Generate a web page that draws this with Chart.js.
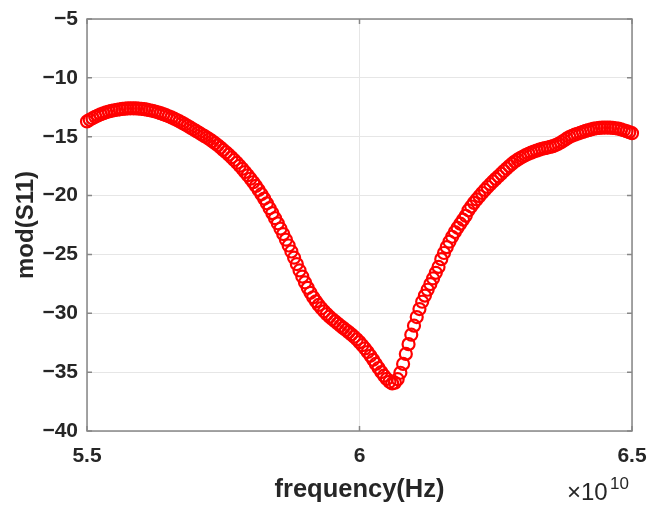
<!DOCTYPE html>
<html>
<head>
<meta charset="utf-8">
<script src="https://cdn.jsdelivr.net/npm/chart.js@4.4.0/dist/chart.umd.min.js"></script>
<style>
  html, body { margin: 0; padding: 0; background: #fff; }
  #wrap { width: 653px; height: 508px; }
</style>
</head>
<body>
<div id="wrap"><canvas id="s11Chart" width="653" height="508"></canvas></div>
<script>
// sweep frequencies in GHz (50 MHz step)
const freqGHz = [
  55.00, 55.05, 55.10, 55.15, 55.20, 55.25, 55.30, 55.35, 55.40, 55.45,
  55.50, 55.55, 55.60, 55.65, 55.70, 55.75, 55.80, 55.85, 55.90, 55.95,
  56.00, 56.05, 56.10, 56.15, 56.20, 56.25, 56.30, 56.35, 56.40, 56.45,
  56.50, 56.55, 56.60, 56.65, 56.70, 56.75, 56.80, 56.85, 56.90, 56.95,
  57.00, 57.05, 57.10, 57.15, 57.20, 57.25, 57.30, 57.35, 57.40, 57.45,
  57.50, 57.55, 57.60, 57.65, 57.70, 57.75, 57.80, 57.85, 57.90, 57.95,
  58.00, 58.05, 58.10, 58.15, 58.20, 58.25, 58.30, 58.35, 58.40, 58.45,
  58.50, 58.55, 58.60, 58.65, 58.70, 58.75, 58.80, 58.85, 58.90, 58.95,
  59.00, 59.05, 59.10, 59.15, 59.20, 59.25, 59.30, 59.35, 59.40, 59.45,
  59.50, 59.55, 59.60, 59.65, 59.70, 59.75, 59.80, 59.85, 59.90, 59.95,
  60.00, 60.05, 60.10, 60.15, 60.20, 60.25, 60.30, 60.35, 60.40, 60.45,
  60.50, 60.55, 60.60, 60.65, 60.70, 60.75, 60.80, 60.85, 60.90, 60.95,
  61.00, 61.05, 61.10, 61.15, 61.20, 61.25, 61.30, 61.35, 61.40, 61.45,
  61.50, 61.55, 61.60, 61.65, 61.70, 61.75, 61.80, 61.85, 61.90, 61.95,
  62.00, 62.05, 62.10, 62.15, 62.20, 62.25, 62.30, 62.35, 62.40, 62.45,
  62.50, 62.55, 62.60, 62.65, 62.70, 62.75, 62.80, 62.85, 62.90, 62.95,
  63.00, 63.05, 63.10, 63.15, 63.20, 63.25, 63.30, 63.35, 63.40, 63.45,
  63.50, 63.55, 63.60, 63.65, 63.70, 63.75, 63.80, 63.85, 63.90, 63.95,
  64.00, 64.05, 64.10, 64.15, 64.20, 64.25, 64.30, 64.35, 64.40, 64.45,
  64.50, 64.55, 64.60, 64.65, 64.70, 64.75, 64.80, 64.85, 64.90, 64.95,
  65.00
];

// mod(S11) in dB
const s11dB = [
  -13.70, -13.56, -13.43, -13.31, -13.20, -13.10, -13.01, -12.93, -12.86, -12.80,
  -12.75, -12.71, -12.67, -12.64, -12.62, -12.60, -12.59, -12.59, -12.60, -12.61,
  -12.63, -12.66, -12.70, -12.75, -12.80, -12.86, -12.93, -13.00, -13.08, -13.17,
  -13.26, -13.36, -13.47, -13.58, -13.70, -13.83, -13.96, -14.09, -14.23, -14.37,
  -14.51, -14.65, -14.79, -14.93, -15.07, -15.22, -15.38, -15.55, -15.73, -15.92,
  -16.12, -16.32, -16.53, -16.75, -16.98, -17.22, -17.47, -17.73, -18.00, -18.28,
  -18.57, -18.87, -19.18, -19.52, -19.88, -20.26, -20.66, -21.07, -21.49, -21.92,
  -22.36, -22.81, -23.27, -23.75, -24.24, -24.75, -25.28, -25.82, -26.36, -26.88,
  -27.38, -27.84, -28.26, -28.64, -28.98, -29.29, -29.57, -29.83, -30.07, -30.29,
  -30.49, -30.68, -30.87, -31.06, -31.24, -31.42, -31.60, -31.79, -31.99, -32.21,
  -32.45, -32.71, -32.99, -33.29, -33.61, -33.95, -34.30, -34.65, -34.99, -35.30,
  -35.58, -35.82, -35.96, -35.90, -35.60, -35.05, -34.30, -33.45, -32.62, -31.82,
  -31.05, -30.32, -29.64, -29.02, -28.50, -28.00, -27.52, -27.04, -26.56, -26.06,
  -25.40, -24.88, -24.38, -23.92, -23.50, -23.10, -22.74, -22.39, -22.05, -21.72,
  -21.25, -20.93, -20.62, -20.33, -20.05, -19.78, -19.52, -19.27, -19.03, -18.80,
  -18.58, -18.36, -18.14, -17.92, -17.70, -17.49, -17.29, -17.11, -16.95, -16.81,
  -16.68, -16.56, -16.45, -16.35, -16.26, -16.18, -16.10, -16.03, -15.97, -15.92,
  -15.87, -15.80, -15.71, -15.60, -15.47, -15.32, -15.17, -15.03, -14.92, -14.83,
  -14.75, -14.67, -14.59, -14.51, -14.44, -14.38, -14.32, -14.28, -14.25, -14.23,
  -14.22, -14.22, -14.23, -14.25, -14.28, -14.32, -14.38, -14.45, -14.53, -14.61,
  -14.70
];

const xTicksHz = [5.5e10, 6.0e10, 6.5e10];
const yTicks = [-40, -35, -30, -25, -20, -15, -10, -5];

const axisColor = '#878787';
const textColor = '#262626';
const fontFamily = '"Liberation Sans", Arial, Helvetica, sans-serif';

const points = freqGHz.map((f, i) => ({ x: f * 1e9, y: s11dB[i] }));

// matlab style box with inward ticks + x10^10 exponent
const matlabBox = {
  id: 'matlabBox',
  beforeDatasetsDraw(chart) {
    const { ctx, chartArea: a, scales: { x, y } } = chart;
    ctx.save();
    ctx.strokeStyle = axisColor;
    ctx.lineWidth = 1.5;
    ctx.strokeRect(a.left, a.top, a.right - a.left, a.bottom - a.top);
    const len = 5;
    ctx.beginPath();
    xTicksHz.forEach(v => {
      const px = x.getPixelForValue(v);
      ctx.moveTo(px, a.bottom); ctx.lineTo(px, a.bottom - len);
      ctx.moveTo(px, a.top); ctx.lineTo(px, a.top + len);
    });
    yTicks.forEach(v => {
      const py = y.getPixelForValue(v);
      ctx.moveTo(a.left, py); ctx.lineTo(a.left + len, py);
      ctx.moveTo(a.right, py); ctx.lineTo(a.right - len, py);
    });
    ctx.stroke();
    ctx.restore();
  },
  afterDraw(chart) {
    const { ctx, chartArea: a } = chart;
    ctx.save();
    ctx.fillStyle = textColor;
    ctx.textBaseline = 'alphabetic';
    ctx.textAlign = 'left';
    ctx.font = '24px ' + fontFamily;
    ctx.fillText('\u00d710', a.right - 65, 500);
    ctx.font = '17px ' + fontFamily;
    ctx.fillText('10', a.right - 22, 489);
    ctx.restore();
  }
};

new Chart(document.getElementById('s11Chart'), {
  type: 'scatter',
  data: {
    datasets: [{
      label: 'mod(S11)',
      data: points,
      showLine: false,
      pointStyle: 'circle',
      pointRadius: 6,
      pointHoverRadius: 6,
      pointBorderWidth: 2.2,
      borderColor: '#ff0000',
      backgroundColor: 'rgba(0,0,0,0)',
      clip: false
    }]
  },
  options: {
    responsive: false,
    animation: false,
    devicePixelRatio: 1,
    layout: { padding: { top: 19, right: 21, left: 0, bottom: 0 } },
    plugins: {
      legend: { display: false },
      tooltip: { enabled: false }
    },
    scales: {
      x: {
        type: 'linear',
        min: 5.5e10,
        max: 6.5e10,
        afterFit: s => { s.height = 77; s.paddingLeft = 0; s.paddingRight = 0; },
        afterBuildTicks: s => { s.ticks = xTicksHz.map(v => ({ value: v })); },
        grid: { color: '#e6e6e6', lineWidth: 1, drawTicks: false },
        border: { display: false },
        ticks: {
          padding: 13,
          color: textColor,
          font: { family: fontFamily, size: 21, weight: 'bold' },
          callback: v => String(Number((v / 1e10).toFixed(1)))
        },
        title: {
          display: true,
          text: 'frequency(Hz)',
          color: textColor,
          font: { family: fontFamily, size: 25.5, weight: 'bold' },
          padding: { top: 0, bottom: 3 }
        }
      },
      y: {
        type: 'linear',
        min: -40,
        max: -5,
        afterFit: s => { s.width = 87; s.paddingTop = 0; s.paddingBottom = 0; },
        afterBuildTicks: s => { s.ticks = yTicks.map(v => ({ value: v })); },
        grid: { color: '#e6e6e6', lineWidth: 1, drawTicks: false },
        border: { display: false },
        ticks: {
          padding: 9,
          color: textColor,
          font: { family: fontFamily, size: 21, weight: 'bold' },
          callback: v => (v < 0 ? '\u2212' + Math.abs(v) : String(v))
        },
        title: {
          display: true,
          text: 'mod(S11)',
          color: textColor,
          font: { family: fontFamily, size: 24, weight: 'bold' },
          padding: { top: 12, bottom: 0 }
        }
      }
    }
  },
  plugins: [matlabBox]
});
</script>
</body>
</html>
